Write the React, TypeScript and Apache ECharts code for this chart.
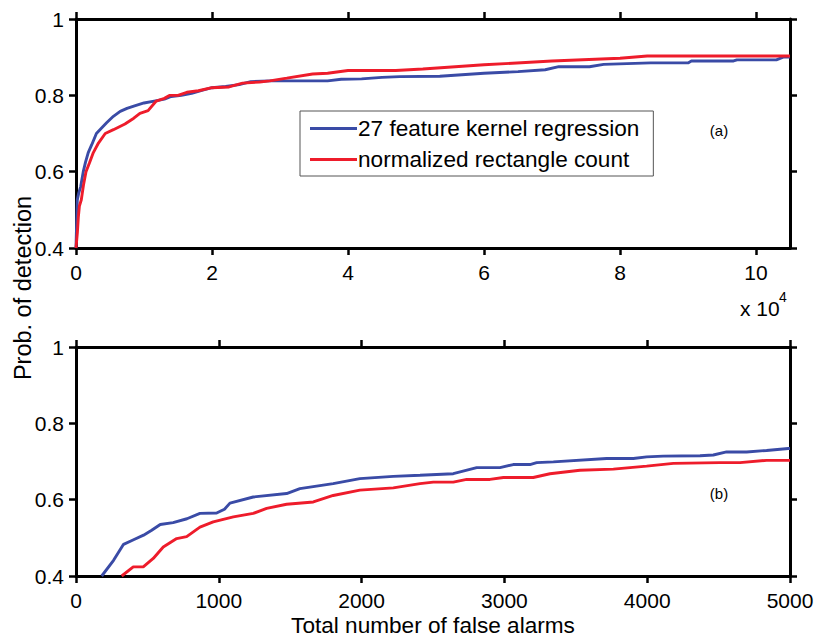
import React, { useEffect, useRef } from "react";
import * as echarts from "echarts";

const SERIES_NAMES = ["27 feature kernel regression", "normalized rectangle count"];

// Panel (a): total false alarms (raw count) vs probability of detection
const topBlue: [number, number][] = [
  [0, 0.4], [100, 0.47], [190, 0.526], [390, 0.543], [690, 0.561], [1070, 0.6], [1400, 0.625],
  [1800, 0.65], [2300, 0.67], [3000, 0.7], [3800, 0.715], [4500, 0.728], [5500, 0.745],
  [6500, 0.758], [7500, 0.766], [8500, 0.772], [10000, 0.78], [11500, 0.785], [13000, 0.79],
  [14000, 0.797], [15500, 0.8], [17000, 0.805], [18500, 0.813], [20000, 0.82], [22000, 0.823],
  [24000, 0.828], [25700, 0.836], [28500, 0.838], [31000, 0.838], [34000, 0.838], [37000, 0.838],
  [39000, 0.842], [42000, 0.843], [45000, 0.847], [47600, 0.849], [53500, 0.85], [60000, 0.858],
  [65000, 0.862], [69000, 0.867], [71000, 0.875], [75500, 0.875], [77600, 0.881], [84500, 0.885],
  [90000, 0.885], [90500, 0.89], [96700, 0.89], [97200, 0.893], [103000, 0.893], [104000, 0.9],
  [105000, 0.9],
];
const topRed: [number, number][] = [
  [0, 0.4], [200, 0.44], [340, 0.48], [500, 0.51], [780, 0.526], [1100, 0.565], [1470, 0.6],
  [1960, 0.622], [2550, 0.65], [3300, 0.675], [4300, 0.7], [5500, 0.71], [7200, 0.725],
  [8500, 0.74], [9400, 0.753], [10600, 0.76], [11800, 0.785], [13000, 0.792], [13800, 0.8],
  [15000, 0.8], [16300, 0.808], [18000, 0.812], [20000, 0.82], [22500, 0.822], [24500, 0.832],
  [27000, 0.835], [28500, 0.838], [31000, 0.845], [34800, 0.856], [37000, 0.858], [40000, 0.865],
  [47000, 0.865], [51000, 0.869], [60000, 0.88], [70000, 0.89], [80000, 0.897], [84000, 0.903],
  [105000, 0.903],
];

// Panel (b): zoom on the first 5000 false alarms
const bottomBlue: [number, number][] = [
  [180, 0.4], [263, 0.441], [333, 0.483], [403, 0.495], [473, 0.507], [530, 0.52], [590, 0.535],
  [680, 0.54], [777, 0.55], [868, 0.564], [985, 0.565], [1040, 0.575], [1078, 0.591], [1241, 0.607],
  [1475, 0.616], [1568, 0.629], [1801, 0.642], [1988, 0.655], [2222, 0.661], [2409, 0.664],
  [2642, 0.668], [2806, 0.684], [2969, 0.684], [3062, 0.692], [3179, 0.692], [3226, 0.697],
  [3343, 0.699], [3716, 0.708], [3903, 0.708], [3996, 0.712], [4112, 0.714], [4370, 0.715],
  [4463, 0.717], [4556, 0.725], [4696, 0.725], [4836, 0.729], [4988, 0.734], [5000, 0.734],
];
const bottomRed: [number, number][] = [
  [320, 0.4], [401, 0.424], [471, 0.424], [541, 0.446], [611, 0.476], [705, 0.498], [775, 0.503],
  [868, 0.528], [961, 0.542], [1102, 0.555], [1241, 0.564], [1335, 0.577], [1475, 0.588],
  [1662, 0.594], [1801, 0.611], [1988, 0.625], [2222, 0.631], [2409, 0.642], [2502, 0.646],
  [2642, 0.646], [2736, 0.653], [2899, 0.653], [2993, 0.658], [3202, 0.658], [3319, 0.668],
  [3529, 0.677], [3763, 0.68], [3996, 0.688], [4183, 0.695], [4510, 0.697], [4650, 0.697],
  [4836, 0.703], [5000, 0.703],
];

const topXTicks = [0, 20000, 40000, 60000, 80000, 100000];
const yTickLabels = ["0.4", "0.6", "0.8", "1"];

const FONT = "Liberation Sans, Arial, Helvetica, sans-serif";
const BLUE = "#3a4ba6";
const RED = "#ee1c2b";

export default function App() {
  const ref = useRef<HTMLDivElement>(null);
  useEffect(() => {
    if (!ref.current) return;
    const chart = echarts.init(ref.current, undefined, { renderer: "svg" });

    const axisLine = { show: true, onZero: false, lineStyle: { color: "#000", width: 3 } };
    const tick = (custom?: number[]) => ({
      show: true,
      inside: false,
      length: 7,
      lineStyle: { color: "#000", width: 2.5 },
      ...(custom ? { customValues: custom } : {}),
    });
    const label = { fontSize: 21, color: "#000", fontFamily: FONT };

    const xTop = (pos: "bottom" | "top", show: boolean) => ({
      type: "value",
      gridIndex: 0,
      position: pos,
      min: 0,
      max: 105000,
      axisLine,
      axisTick: tick(topXTicks),
      splitLine: { show: false },
      axisLabel: show
        ? { ...label, margin: 14, customValues: topXTicks, formatter: (v: number) => String(v / 10000) }
        : { show: false },
    });
    const xBot = (pos: "bottom" | "top", show: boolean) => ({
      type: "value",
      gridIndex: 1,
      position: pos,
      min: 0,
      max: 5000,
      interval: 1000,
      axisLine,
      axisTick: tick(),
      splitLine: { show: false },
      axisLabel: show ? { ...label, margin: 14, formatter: (v: number) => String(v) } : { show: false },
      ...(show
        ? {
            name: "Total number of false alarms",
            nameLocation: "middle",
            nameGap: 38,
            nameTextStyle: { fontSize: 22.6, color: "#000", fontFamily: FONT },
          }
        : {}),
    });
    const yAx = (grid: number, pos: "left" | "right", show: boolean) => ({
      type: "value",
      gridIndex: grid,
      position: pos,
      min: 0.4,
      max: 1,
      interval: 0.2,
      axisLine,
      axisTick: tick(),
      splitLine: { show: false },
      axisLabel: show
        ? {
            ...label,
            margin: 12,
            formatter: (v: number) => yTickLabels[Math.round((v - 0.4) / 0.2)] ?? "",
          }
        : { show: false },
    });

    const line = (name: string, color: string, data: [number, number][], xi: number, yi: number) => ({
      type: "line",
      name,
      data,
      xAxisIndex: xi,
      yAxisIndex: yi,
      showSymbol: false,
      symbol: "none",
      lineStyle: { color, width: 2.9 },
      itemStyle: { color },
      z: 1,
    });

    chart.setOption({
      animation: false,
      backgroundColor: "#fff",
      grid: [
        { left: 76, top: 19, width: 714, height: 229, containLabel: false, outerBoundsMode: "none" },
        { left: 76, top: 347, width: 714, height: 229, containLabel: false, outerBoundsMode: "none" },
      ],
      xAxis: [xTop("bottom", true), xTop("top", false), xBot("bottom", true), xBot("top", false)],
      yAxis: [yAx(0, "left", true), yAx(0, "right", false), yAx(1, "left", true), yAx(1, "right", false)],
      legend: {
        data: SERIES_NAMES,
        orient: "vertical",
        left: 300,
        top: 111,
        padding: [6, 14, 5, 10],
        itemGap: 8,
        itemWidth: 47,
        itemHeight: 3,
        icon: "rect",
        backgroundColor: "#fff",
        borderColor: "#555",
        borderWidth: 1,
        borderRadius: 0,
        selectedMode: false,
        textStyle: { fontSize: 22.6, color: "#000", fontFamily: FONT, padding: [0, 0, 0, -4], lineHeight: 22 },
      },
      graphic: [
        {
          type: "text",
          x: 23,
          y: 288,
          rotation: Math.PI / 2,
          style: {
            text: "Prob. of detection",
            font: `23.5px ${FONT}`,
            fill: "#000",
            align: "center",
            verticalAlign: "middle",
          },
        },
        {
          type: "text",
          x: 740,
          y: 308,
          style: { text: "x 10", font: `21px ${FONT}`, fill: "#000", align: "left", verticalAlign: "middle" },
        },
        {
          type: "text",
          x: 779,
          y: 297,
          style: { text: "4", font: `14px ${FONT}`, fill: "#000", align: "left", verticalAlign: "middle" },
        },
        {
          type: "text",
          x: 719,
          y: 130,
          style: { text: "(a)", font: `15px ${FONT}`, fill: "#000", align: "center", verticalAlign: "middle" },
        },
        {
          type: "text",
          x: 719,
          y: 493,
          style: { text: "(b)", font: `15px ${FONT}`, fill: "#000", align: "center", verticalAlign: "middle" },
        },
      ],
      series: [
        line(SERIES_NAMES[0], BLUE, topBlue, 0, 0),
        line(SERIES_NAMES[1], RED, topRed, 0, 0),
        line(SERIES_NAMES[0], BLUE, bottomBlue, 2, 2),
        line(SERIES_NAMES[1], RED, bottomRed, 2, 2),
      ],
    });
    return () => chart.dispose();
  }, []);
  return (
    <div
      ref={ref}
      style={{ position: "absolute", left: 0, top: 0, width: 819, height: 640, background: "#fff" }}
    />
  );
}
